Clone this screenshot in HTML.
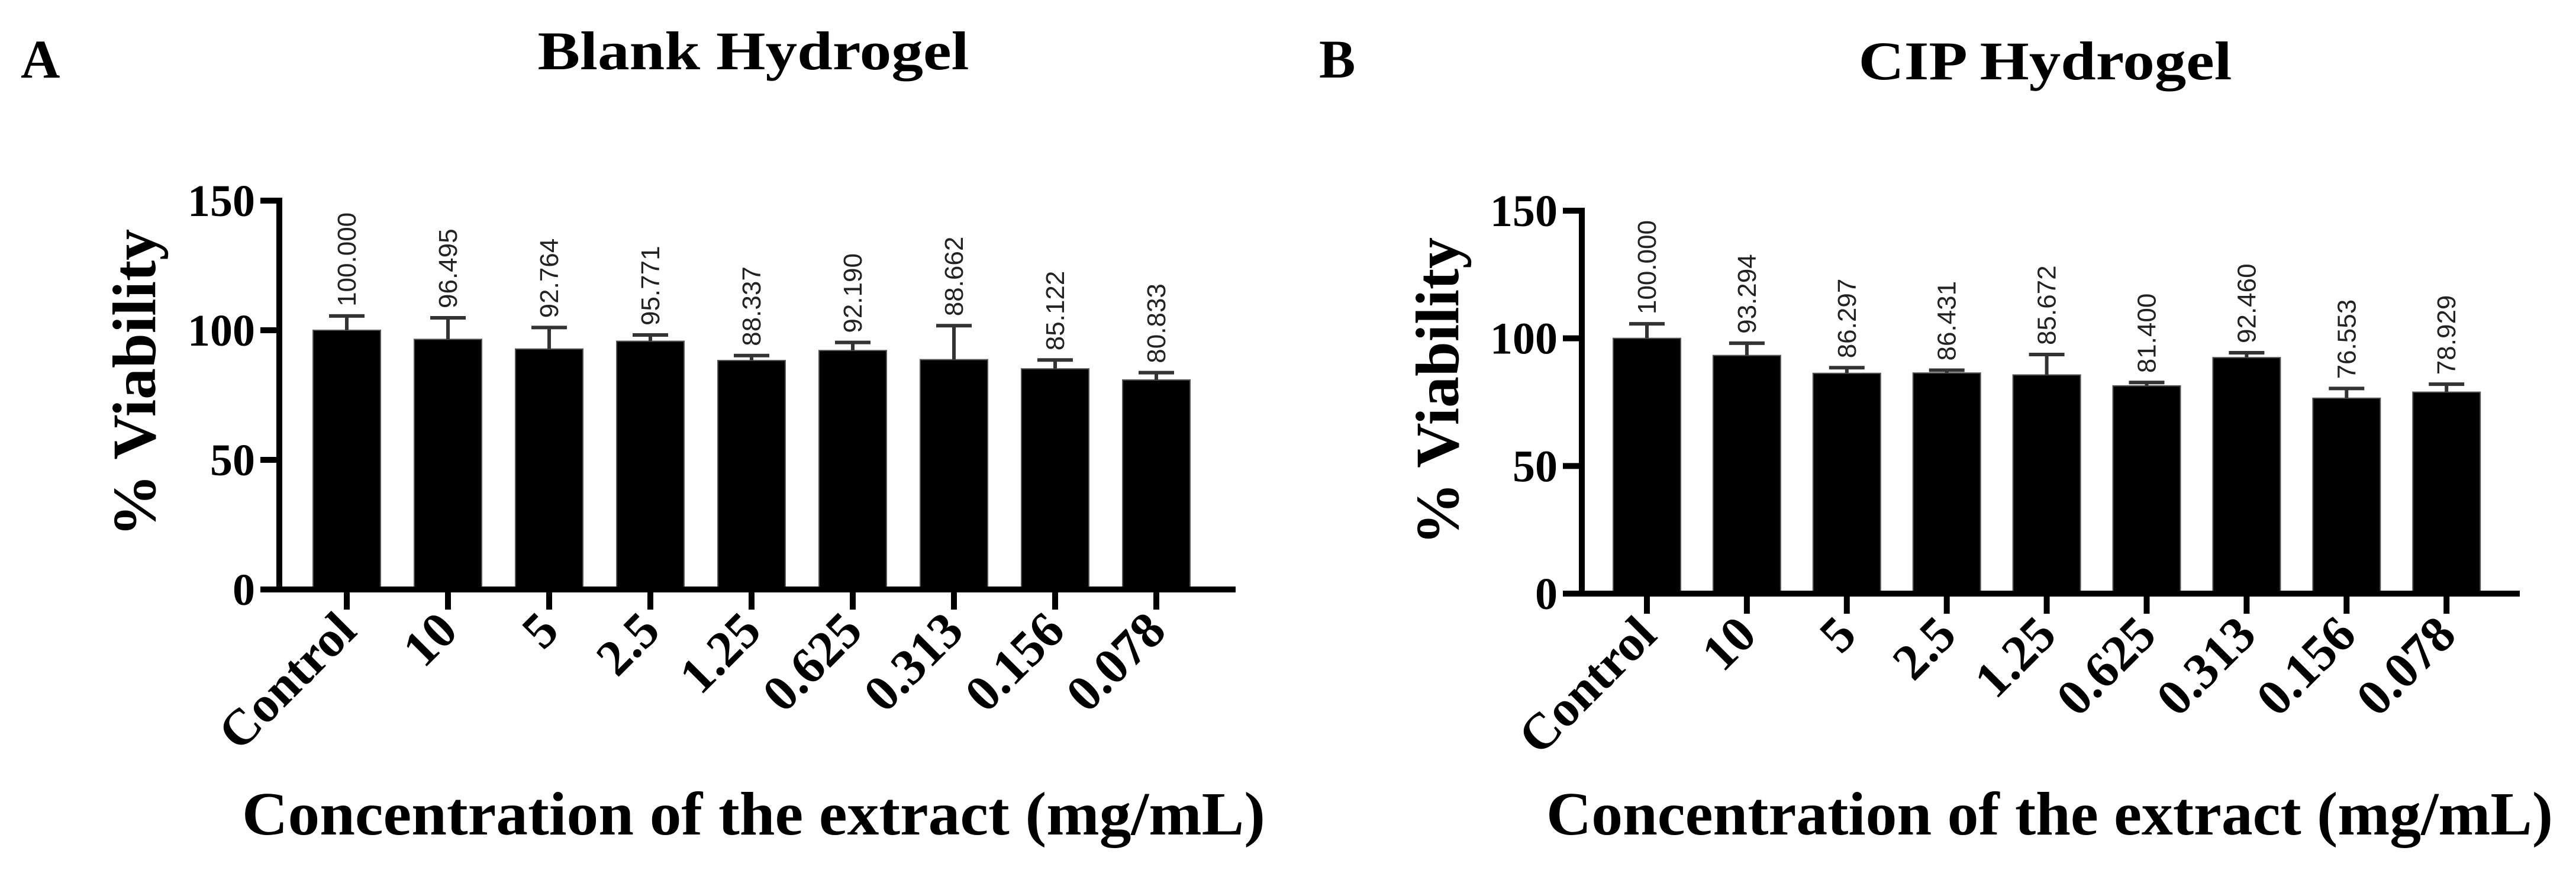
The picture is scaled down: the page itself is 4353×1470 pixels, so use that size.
<!DOCTYPE html>
<html><head><meta charset="utf-8">
<style>
html,body{margin:0;padding:0;background:#fff;}
svg{display:block;}
</style></head>
<body>
<svg id="fig" xmlns="http://www.w3.org/2000/svg" width="4353" height="1470" viewBox="0 0 4353 1470">
<rect width="4353" height="1470" fill="#fff"/>
</svg>
<script>
const categories = ["Control","10","5","2.5","1.25","0.625","0.313","0.156","0.078"];
const blankMeans = [100.000,96.495,92.764,95.771,88.337,92.190,88.662,85.122,80.833];
const blankErrors = [5.5,8.3,8.3,2.4,1.9,3.1,13.1,3.4,2.8];
const cipMeans = [100.000,93.294,86.297,86.431,85.672,81.400,92.460,76.553,78.929];
const cipErrors = [5.7,4.8,2.2,1.1,8.0,1.3,1.9,3.8,3.1];
const yTicks = [0,50,100,150];
const panelLetters = ["A","B"];
const panelTitles = ["Blank Hydrogel","CIP Hydrogel"];

const NS = "http://www.w3.org/2000/svg";
const svg = document.getElementById("fig");
function mk(tag, attrs, parent){
  const e = document.createElementNS(NS, tag);
  for (const k in attrs) e.setAttribute(k, attrs[k]);
  (parent||svg).appendChild(e);
  return e;
}
const TNR = "'Liberation Serif', 'Times New Roman', serif";
const ARIAL = "'Liberation Sans', Arial, sans-serif";

const panels = [
  {key:"blank", means:blankMeans, errs:blankErrors, axisX:472, y0:996, y150:339, first:586, step:171, axisEnd:2088,
   letterX:35, letterY:131, titleCx:1273, titleY:117, titleLen:729, yLabX:262, yLabY:647, xTitleX:409, xTitleLen:1729},
  {key:"cip", means:cipMeans, errs:cipErrors, axisX:2673, y0:1003, y150:356, first:2783, step:168.9, axisEnd:4258,
   letterX:2229, letterY:131, titleCx:3456, titleY:134, titleLen:631, yLabX:2464, yLabY:661, xTitleX:2613, xTitleLen:1701}
];

panels.forEach((p, pi) => {
  const g = mk("g", {});
  
  
  const yS = v => p.y0 - (v/150)*(p.y0 - p.y150);
  const xS = i => p.first + i*p.step;
  const bw = 114;

  const letter = mk("text", {x:p.letterX, y:p.letterY, "font-family":TNR, "font-weight":"bold", "font-size":92, fill:"#000"}, g);
  letter.textContent = panelLetters[pi];
  
  

  const title = mk("text", {x:p.titleCx, y:p.titleY, "text-anchor":"middle", "font-family":TNR, "font-weight":"bold", "font-size":92, fill:"#000", textLength:p.titleLen, lengthAdjust:"spacingAndGlyphs"}, g);
  title.textContent = panelTitles[pi];
  
  

  p.means.forEach((m, i) => {
    const cx = xS(i);
    const bar = mk("rect", {x:cx-bw/2, y:yS(m), width:bw, height:p.y0-yS(m), fill:"#000", stroke:"#555", "stroke-width":2}, g);
    
    
    const top = yS(m + p.errs[i]);
    const eb = mk("path", {d:`M${cx},${yS(m)} V${top} M${cx-30},${top} H${cx+30}`, stroke:"#333", "stroke-width":6, fill:"none"}, g);
    
    
    const lx = cx + 15, ly = top - 16;
    const vl = mk("text", {x:lx, y:ly, transform:`rotate(-90 ${lx} ${ly})`, "font-family":ARIAL, "font-size":44, fill:"#222"}, g);
    vl.textContent = m.toFixed(3);
    
    
  });

  const ya = mk("line", {x1:p.axisX, y1:p.y150-5, x2:p.axisX, y2:p.y0+5, stroke:"#000", "stroke-width":10}, g);
  
  
  const xa = mk("line", {x1:p.axisX-30, y1:p.y0, x2:p.axisEnd, y2:p.y0, stroke:"#000", "stroke-width":10}, g);
  
  

  yTicks.forEach(t => {
    const y = yS(t);
    const tk = mk("line", {x1:p.axisX-32, y1:y, x2:p.axisX, y2:y, stroke:"#000", "stroke-width":10}, g);
    
    
    const tl = mk("text", {x:p.axisX-41, y:y+26, "text-anchor":"end", "font-family":TNR, "font-weight":"bold", "font-size":76, fill:"#000"}, g);
    tl.textContent = t;
    
    
  });

  categories.forEach((c, i) => {
    const cx = xS(i);
    const tk = mk("line", {x1:cx, y1:p.y0, x2:cx, y2:p.y0+34, stroke:"#000", "stroke-width":10}, g);
    
    
    const ax = cx + 20, ay = p.y0 + 74;
    const tl = mk("text", {x:ax, y:ay, "text-anchor":"end", transform:`rotate(-45 ${ax} ${ay})`, "font-family":TNR, "font-weight":"bold", "font-size":86, fill:"#000"}, g);
    tl.textContent = c;
    
    
  });

  const yl = mk("text", {x:p.yLabX, y:p.yLabY, "text-anchor":"middle", transform:`rotate(-90 ${p.yLabX} ${p.yLabY})`, "font-family":TNR, "font-weight":"bold", "font-size":104, fill:"#000", textLength:520, lengthAdjust:"spacingAndGlyphs"}, g);
  yl.textContent = "% Viability";
  
  

  const xt = mk("text", {x:p.xTitleX, y:1410, "font-family":TNR, "font-weight":"bold", "font-size":104, fill:"#000", textLength:p.xTitleLen, lengthAdjust:"spacingAndGlyphs"}, g);
  xt.textContent = "Concentration of the extract (mg/mL)";
  
  
});
</script>
</body></html>
